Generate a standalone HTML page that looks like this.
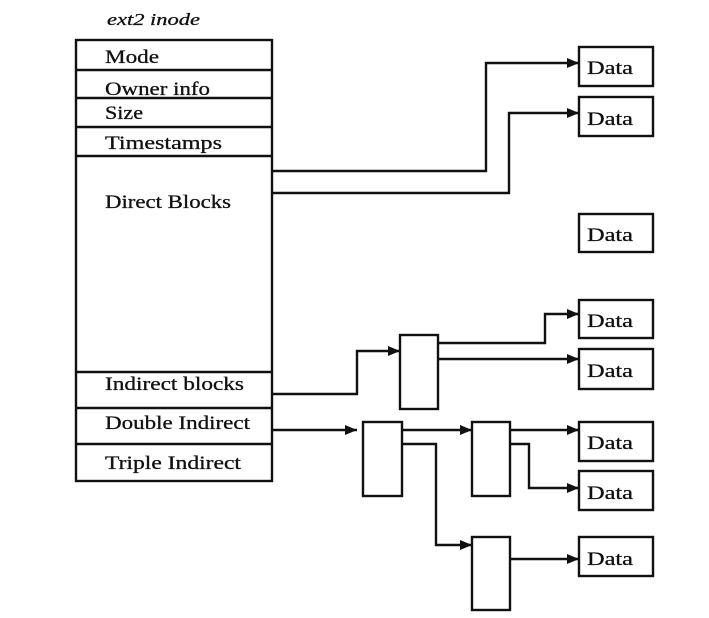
<!DOCTYPE html>
<html><head><meta charset="utf-8"><style>
html,body{margin:0;padding:0;background:#fff;width:709px;height:618px;overflow:hidden}
svg{display:block}
text{font-family:"Liberation Serif",serif;font-size:19px;fill:#111;stroke:#111;stroke-width:0.3}
</style></head><body>
<svg width="709" height="618" viewBox="0 0 709 618" xmlns="http://www.w3.org/2000/svg">
<defs><marker id="a" markerWidth="12" markerHeight="10" refX="12" refY="5" orient="auto" markerUnits="userSpaceOnUse"><path d="M0,0 L12,5 L0,10 Z" fill="#111"/></marker></defs>
<g stroke="#111" stroke-width="2.4" fill="none">
<rect x="76" y="40" width="196" height="441"/>
<line x1="76" y1="70" x2="272" y2="70"/>
<line x1="76" y1="98" x2="272" y2="98"/>
<line x1="76" y1="127" x2="272" y2="127"/>
<line x1="76" y1="156" x2="272" y2="156"/>
<line x1="76" y1="372" x2="272" y2="372"/>
<line x1="76" y1="408" x2="272" y2="408"/>
<line x1="76" y1="444" x2="272" y2="444"/>
<rect x="579" y="47" width="74" height="39"/>
<rect x="579" y="97" width="74" height="39"/>
<rect x="579" y="214" width="74" height="38"/>
<rect x="579" y="300" width="74" height="38"/>
<rect x="579" y="349" width="74" height="40"/>
<rect x="579" y="422" width="74" height="39"/>
<rect x="579" y="471" width="74" height="39"/>
<rect x="579" y="537" width="74" height="39"/>
<rect x="400" y="335" width="38" height="74"/>
<rect x="363" y="422" width="39" height="74"/>
<rect x="472" y="422" width="38" height="74"/>
<rect x="472" y="537" width="38" height="73"/>
<polyline points="272,171 486,171 486,63 579,63" marker-end="url(#a)"/>
<polyline points="272,193 509,193 509,113 579,113" marker-end="url(#a)"/>
<polyline points="272,394 357,394 357,351 400,351" marker-end="url(#a)"/>
<polyline points="438,343 545,343 545,314 579,314" marker-end="url(#a)"/>
<polyline points="438,359 579,359" marker-end="url(#a)"/>
<polyline points="272,430 357,430" marker-end="url(#a)"/>
<polyline points="402,430 472,430" marker-end="url(#a)"/>
<polyline points="402,444 436,444 436,545 472,545" marker-end="url(#a)"/>
<polyline points="510,430 579,430" marker-end="url(#a)"/>
<polyline points="510,444 529,444 529,488 579,488" marker-end="url(#a)"/>
<polyline points="510,559 579,559" marker-end="url(#a)"/>
</g>
<text x="107" y="25" font-style="italic" textLength="93" lengthAdjust="spacingAndGlyphs" style="font-size:17px">ext2 inode</text>
<text x="105" y="63" textLength="54" lengthAdjust="spacingAndGlyphs">Mode</text>
<text x="105" y="95" textLength="105" lengthAdjust="spacingAndGlyphs">Owner info</text>
<text x="105" y="119" textLength="38" lengthAdjust="spacingAndGlyphs">Size</text>
<text x="105" y="149" textLength="117" lengthAdjust="spacingAndGlyphs">Timestamps</text>
<text x="105" y="208" textLength="126" lengthAdjust="spacingAndGlyphs">Direct Blocks</text>
<text x="105" y="390" textLength="139" lengthAdjust="spacingAndGlyphs">Indirect blocks</text>
<text x="105" y="429" textLength="145" lengthAdjust="spacingAndGlyphs">Double Indirect</text>
<text x="105" y="469" textLength="136" lengthAdjust="spacingAndGlyphs">Triple Indirect</text>
<text x="587" y="74" textLength="46" lengthAdjust="spacingAndGlyphs">Data</text>
<text x="587" y="125" textLength="46" lengthAdjust="spacingAndGlyphs">Data</text>
<text x="587" y="241" textLength="46" lengthAdjust="spacingAndGlyphs">Data</text>
<text x="587" y="327" textLength="46" lengthAdjust="spacingAndGlyphs">Data</text>
<text x="587" y="377" textLength="46" lengthAdjust="spacingAndGlyphs">Data</text>
<text x="587" y="449" textLength="46" lengthAdjust="spacingAndGlyphs">Data</text>
<text x="587" y="499" textLength="46" lengthAdjust="spacingAndGlyphs">Data</text>
<text x="587" y="565" textLength="46" lengthAdjust="spacingAndGlyphs">Data</text>
</svg>
</body></html>
